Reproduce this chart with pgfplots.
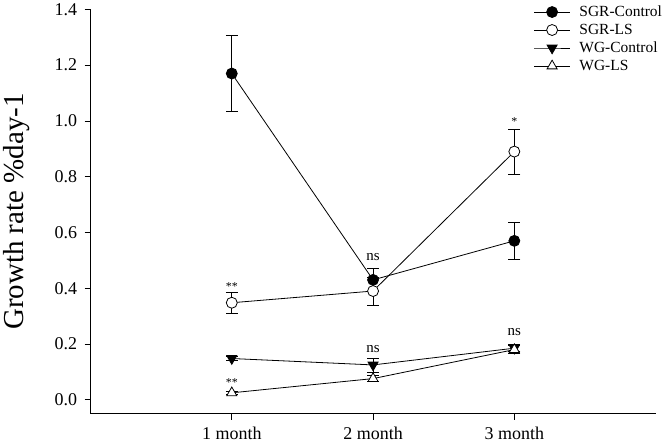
\documentclass[border=0pt]{standalone}
\usepackage{pgfplots}
\pgfplotsset{compat=1.18}
\usepackage{fontspec}
\setmainfont{Liberation Serif}
\pgfplotstableread{
x y e
1 1.17 0.135
2 0.43 0.042
3 0.57 0.065
}\sgrc
\pgfplotstableread{
x y e
1 0.348 0.038
2 0.39 0.05
3 0.89 0.08
}\sgrls
\pgfplotstableread{
x y e
1 0.148 0.006
2 0.125 0.025
3 0.185 0.012
}\wgc
\pgfplotstableread{
x y e
1 0.025 0.005
2 0.076 0.01
3 0.18 0.015
}\wgls
\begin{document}
\begin{tikzpicture}
\begin{axis}[
  width=566pt, height=405pt, scale only axis,
  xmin=0, xmax=4, ymin=-0.05, ymax=1.4,
  axis x line*=bottom, axis y line*=left,
  xtick={1,2,3}, xticklabels={1 month, 2 month, 3 month},
  ytick={0,0.2,0.4,0.6,0.8,1.0,1.2,1.4},
  yticklabel style={xshift=-4pt, /pgf/number format/fixed, /pgf/number format/fixed zerofill, /pgf/number format/precision=1},
  /pgf/number format/assume math mode=true,
  tick align=outside, major tick length=6pt,
  tick style={black, line width=0.8pt},
  axis line style={black, line width=0.8pt},
  ticklabel style={font=\fontsize{18}{21}\selectfont},
  xticklabel style={yshift=-4pt},
  ylabel={Growth rate \%day-1},
  every axis y label/.style={at={(axis description cs:-0.131,0.5)}, rotate=90, anchor=center, font=\fontsize{29}{34}\selectfont},
  legend style={at={(axis description cs:0.784,1.014)}, anchor=north west, draw=none, fill=none,
     font=\fontsize{15.5}{18}\selectfont, row sep=2pt, column sep=7pt, inner sep=0pt},
  legend cell align=left,
  legend image code/.code={\draw[mark repeat=2, mark phase=2, #1] plot coordinates {(0pt,0pt) (18pt,0pt) (36pt,0pt)};},
  error bars/y dir=both, error bars/y explicit,
  error bars/error mark options={rotate=90, mark size=6pt, line width=0.8pt, black},
  error bars/error bar style={line width=0.8pt, black},
  clip=false,
]
\addplot[black, line width=0.8pt, mark=*, mark size=5.5pt, mark options={fill=black, solid}] table[x=x, y=y, y error=e] {\sgrc};
\addlegendentry{SGR-Control}
\addplot[black, line width=0.8pt, mark=*, mark size=5.5pt, mark options={fill=white, solid}] table[x=x, y=y, y error=e] {\sgrls};
\addlegendentry{SGR-LS}
\addplot[black, line width=0.8pt, mark=triangle*, mark size=5.8pt, mark options={fill=black, rotate=180, solid}] table[x=x, y=y, y error=e] {\wgc};
\addlegendentry{WG-Control}
\addplot[black, line width=0.8pt, mark=triangle*, mark size=5.8pt, mark options={fill=white, solid}] table[x=x, y=y, y error=e] {\wgls};
\addlegendentry{WG-LS}
\node[anchor=base, font=\fontsize{12}{14}\selectfont] at (axis cs:1,0.393) {**};
\node[anchor=base, font=\fontsize{12}{14}\selectfont] at (axis cs:1,0.049) {**};
\node[anchor=base, font=\fontsize{12}{14}\selectfont] at (axis cs:3,0.983) {*};
\node[anchor=base, font=\fontsize{15}{18}\selectfont] at (axis cs:2,0.50) {ns};
\node[anchor=base, font=\fontsize{15}{18}\selectfont] at (axis cs:2,0.17) {ns};
\node[anchor=base, font=\fontsize{15}{18}\selectfont] at (axis cs:3,0.23) {ns};
\end{axis}
\end{tikzpicture}
\end{document}
